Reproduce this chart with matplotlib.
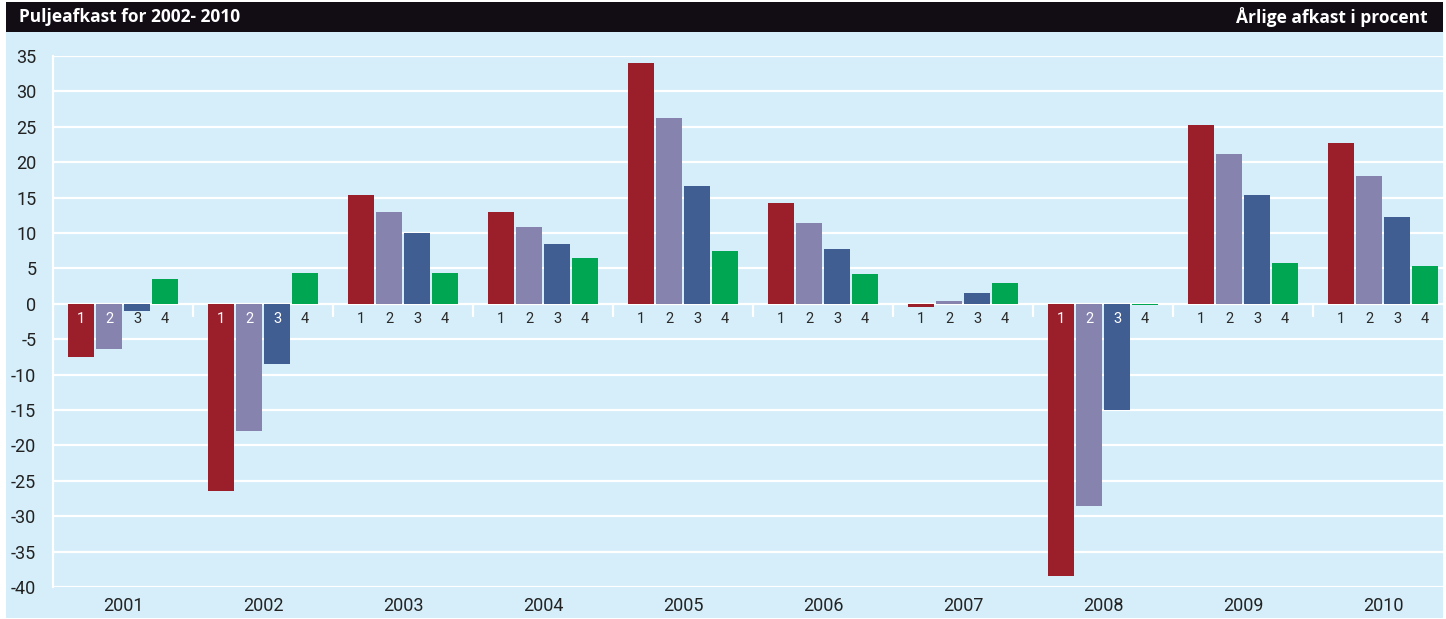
import numpy as np
import matplotlib.pyplot as plt
from matplotlib.patches import Rectangle

years = ['2001', '2002', '2003', '2004', '2005', '2006', '2007', '2008', '2009', '2010']
pulje1 = [-7.5, -26.5, 15.3, 12.9, 34.0, 14.3, -0.5, -38.5, 25.3, 22.7]
pulje2 = [-6.4, -18.0, 13.0, 10.8, 26.3, 11.4, 0.4, -28.6, 21.2, 18.1]
pulje3 = [-1.0, -8.5, 10.0, 8.4, 16.7, 7.7, 1.5, -15.0, 15.4, 12.3]
pulje4 = [3.5, 4.4, 4.4, 6.4, 7.5, 4.2, 2.9, -0.1, 5.8, 5.4]
series_labels = ['1', '2', '3', '4']
colors = ['#9b1f2a', '#8683af', '#415e92', '#00a651']

W, H = 1446, 619
fig = plt.figure(figsize=(W / 100, H / 100), dpi=100)
fig.patch.set_facecolor('white')

# background panel and title bar
fig.add_artist(Rectangle((6 / W, 1 - 618 / H), 1437 / W, 586 / H,
                         transform=fig.transFigure, facecolor='#d5eef9', edgecolor='none', zorder=0))
fig.add_artist(Rectangle((6 / W, 1 - 32 / H), 1437 / W, 30 / H,
                         transform=fig.transFigure, facecolor='#120c15', edgecolor='none', zorder=0))
fig.text(19 / W, 1 - 17 / H, 'Puljeafkast for 2002- 2010', color='white', fontsize=12.5,
         fontweight='bold', va='center', ha='left', family='Open Sans')
fig.text(1428 / W, 1 - 17 / H, 'Årlige afkast i procent', color='white', fontsize=12.5,
         fontweight='bold', va='center', ha='right', family='Open Sans')

ax = fig.add_axes([53 / W, 1 - 587 / H, (1443 - 53) / W, (587 - 56) / H])
ax.set_facecolor('none')

ymin, ymax = -40, 35
ax.set_ylim(ymin, ymax)
ax.set_xlim(0, (1443 - 53) / 140)

x = np.arange(len(years))
width = 26 / 140
pitch = 0.2
series = [pulje1, pulje2, pulje3, pulje4]
for i, vals in enumerate(series):
    xs = x + 0.5 + (i - 1.5) * pitch
    ax.bar(xs, vals, width=width, color=colors[i], zorder=3)
    for xi, v in zip(xs, vals):
        white = v < -3
        ax.text(xi, -2.1, series_labels[i], ha='center', va='center', fontsize=10.5,
                color='white' if white else '#2a2a2a', zorder=4, family='Roboto')

# grid
for yv in range(ymin, ymax + 1, 5):
    ax.axhline(yv, color='white', lw=1.6, zorder=1)
ax.vlines(np.arange(0, len(years) + 1), -1.9, 0, color='white', lw=1.6, zorder=2)

for s in ['top', 'right', 'bottom']:
    ax.spines[s].set_visible(False)
ax.spines['left'].set_color('white')
ax.spines['left'].set_linewidth(1.6)

ax.set_yticks(range(ymin, ymax + 1, 5))
ax.set_yticklabels([str(v) for v in range(ymin, ymax + 1, 5)], family='Roboto', fontsize=13, color='#222222')
ax.tick_params(axis='y', length=0, pad=12)
ax.set_xticks(x + 0.5)
ax.set_xticklabels(years, family='Roboto', fontsize=13, color='#222222')
ax.tick_params(axis='x', length=0, pad=7)

fig.savefig('out.png', dpi=100)
